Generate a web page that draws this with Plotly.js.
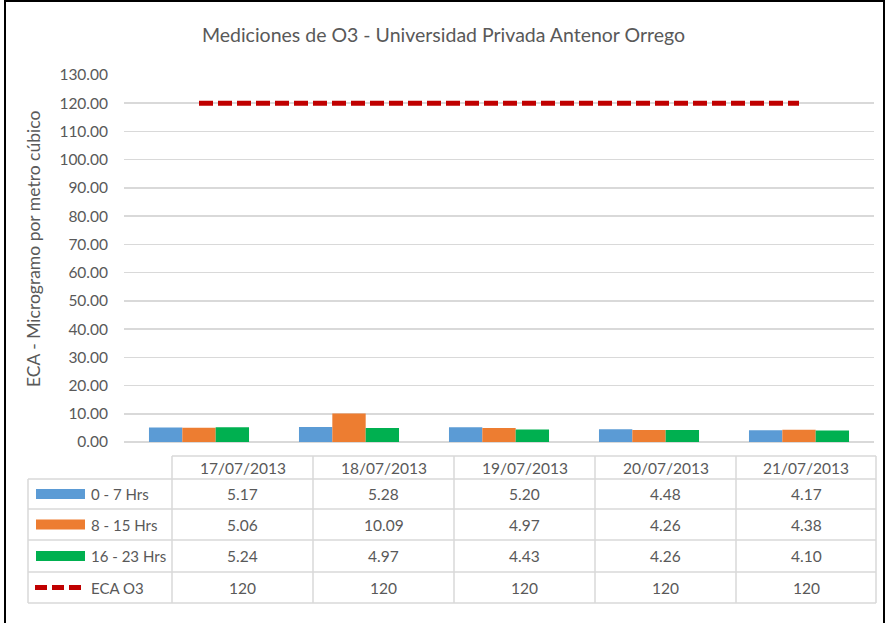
<!DOCTYPE html>
<html>
<head>
<meta charset="utf-8">
<script src="https://cdn.plot.ly/plotly-3.0.1.min.js"></script>
<style>html,body{margin:0;padding:0;background:#fff;}#chart{width:887px;height:623px;}</style>
</head>
<body>
<div id="chart"></div>
<script>
const categories = ['17/07/2013', '18/07/2013', '19/07/2013', '20/07/2013', '21/07/2013'];
const hrs0to7 = [5.17, 5.28, 5.20, 4.48, 4.17];
const hrs8to15 = [5.06, 10.09, 4.97, 4.26, 4.38];
const hrs16to23 = [5.24, 4.97, 4.43, 4.26, 4.10];
const ecaO3 = [120, 120, 120, 120, 120];
const seriesNames = ['0 - 7 Hrs', '8 - 15 Hrs', '16 - 23 Hrs', 'ECA O3'];
const yTicks = [0, 10, 20, 30, 40, 50, 60, 70, 80, 90, 100, 110, 120, 130];

const colors = ['#5B9BD5', '#ED7D31', '#00B050', '#C00000'];
const FONT = 'Lato, "Open Sans", sans-serif';
const TXT = '#595959';
const GRID = '#D9D9D9';
const DASH = '14px,5px';

const W = 887, H = 623, ML = 124, MR = 13, MT = 75, MB = 181;
const px = x => (x - ML) / (W - ML - MR);
const py = y => 1 - (y - MT) / (H - MT - MB);

const barSeries = [hrs0to7, hrs8to15, hrs16to23];
const traces = barSeries.map((vals, i) => ({
  type: 'bar', x: categories, y: vals, name: seriesNames[i],
  marker: {color: colors[i]}, hoverinfo: 'skip'
}));
traces.push({
  type: 'scatter', mode: 'lines', x: categories, y: ecaO3, name: seriesNames[3],
  line: {color: colors[3], width: 5, dash: DASH}, hoverinfo: 'skip'
});

// table geometry (pixels)
const colX = [172, 313, 454, 595, 736, 876];
const rowY = [456, 479, 509, 540, 572, 603];
const leftX = 28;

const shapes = [];
const annotations = [];
const line = (x0, y0, x1, y1, color, width, dash) => shapes.push({
  type: 'line', xref: 'paper', yref: 'paper',
  x0: px(x0), y0: py(y0), x1: px(x1), y1: py(y1),
  line: {color: color, width: width, dash: dash || 'solid'}, layer: 'above'
});

// outer frame
shapes.push({type: 'rect', xref: 'paper', yref: 'paper', x0: px(5), y0: py(1), x1: px(884), y1: py(640),
  line: {color: '#000', width: 2}});

// table grid
line(colX[0], rowY[0], colX[5], rowY[0], GRID, 1.5);
for (let r = 1; r < rowY.length; r++) line(leftX, rowY[r], colX[5], rowY[r], GRID, 1.5);
line(leftX, rowY[1], leftX, rowY[5], GRID, 1.5);
colX.forEach(x => line(x, rowY[0], x, rowY[5], GRID, 1.5));

const TS = 15.5;
// header
categories.forEach((c, j) => annotations.push({
  xref: 'paper', yref: 'paper', x: px((colX[j] + colX[j + 1]) / 2), y: py((rowY[0] + rowY[1]) / 2),
  text: c, showarrow: false, xanchor: 'center', yanchor: 'middle',
  font: {family: FONT, size: TS, color: TXT}
}));

const allSeries = [hrs0to7, hrs8to15, hrs16to23, ecaO3];
allSeries.forEach((vals, i) => {
  const yc = (rowY[i + 1] + rowY[i + 2]) / 2;
  // legend key
  if (i < 3) {
    shapes.push({type: 'rect', xref: 'paper', yref: 'paper', x0: px(36), x1: px(85), y0: py(yc - 5), y1: py(yc + 5),
      fillcolor: colors[i], line: {width: 0}, layer: 'above'});
  } else {
    line(35, yc, 85, yc, colors[3], 5, '12px,5px');
  }
  annotations.push({
    xref: 'paper', yref: 'paper', x: px(89), y: py(yc), text: seriesNames[i], showarrow: false,
    xanchor: 'left', yanchor: 'middle', font: {family: FONT, size: 15, color: TXT}
  });
  vals.forEach((v, j) => annotations.push({
    xref: 'paper', yref: 'paper', x: px((colX[j] + colX[j + 1]) / 2), y: py(yc),
    text: i < 3 ? v.toFixed(2) : String(v), showarrow: false, xanchor: 'center', yanchor: 'middle',
    font: {family: FONT, size: TS, color: TXT}
  }));
});

// y axis title
annotations.push({
  xref: 'paper', yref: 'paper', x: px(33), y: py(249), text: 'ECA - Microgramo por metro cúbico',
  textangle: -90, showarrow: false, xanchor: 'center', yanchor: 'middle',
  font: {family: FONT, size: 17.5, color: TXT}
});

const layout = {
  width: W, height: H,
  margin: {l: ML, r: MR, t: MT, b: MB, pad: 0},
  paper_bgcolor: '#fff', plot_bgcolor: '#fff',
  title: {text: 'Mediciones de O3 - Universidad Privada Antenor Orrego',
    font: {family: FONT, size: 19.5, color: TXT}, x: 0.5, xanchor: 'center', y: 1 - 35 / H, yanchor: 'middle'},
  showlegend: false,
  barmode: 'group', bargap: 0.333, bargroupgap: 0,
  xaxis: {type: 'category', showticklabels: false, showgrid: false, zeroline: false, showline: false, ticks: ''},
  yaxis: {range: [0, 130], tickvals: yTicks, tickformat: '.2f', showgrid: true, gridcolor: GRID, gridwidth: 1.5,
    zeroline: true, zerolinecolor: GRID, zerolinewidth: 1.5, showline: false, ticks: '', ticklabelstandoff: 15,
    tickfont: {family: FONT, size: 15.5, color: TXT}},
  shapes: shapes,
  annotations: annotations
};

Plotly.newPlot('chart', traces, layout, {displayModeBar: false, staticPlot: true});
</script>
</body>
</html>
